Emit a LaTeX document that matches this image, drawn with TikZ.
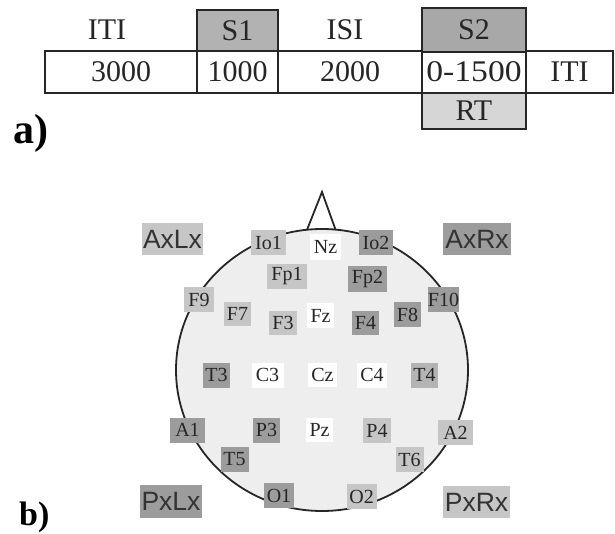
\documentclass[tikz,border=0pt]{standalone}
\usepackage{fontspec}
\setmainfont{Liberation Serif}
\newfontfamily\sansf{Liberation Sans}
\definecolor{lightg}{HTML}{C6C6C6}
\definecolor{darkg}{HTML}{9C9C9C}
\definecolor{midg}{HTML}{B4B4B4}
\definecolor{sonefill}{HTML}{B2B2B2}
\definecolor{stwofill}{HTML}{A8A8A8}
\definecolor{rtfill}{HTML}{D6D6D6}
\definecolor{headfill}{HTML}{EEEEEE}
\begin{document}
\begin{tikzpicture}[x=1pt,y=-1pt,
  cell/.style={draw=black!85, line width=1.8pt, inner sep=0pt, fill=white,
    font=\fontsize{30}{34}\selectfont, text=black!85},
  toplabel/.style={inner sep=0pt, font=\fontsize{30}{34}\selectfont, text=black!85},
  elec/.style={inner sep=0pt, font=\fontsize{20}{22}\selectfont, text=black!85},
  quad/.style={inner sep=0pt, font=\sansf\fontsize{26.5}{28}\selectfont, text=black!80},
  panel/.style={inner sep=0pt, font=\bfseries\fontsize{34}{38}\selectfont, anchor=base west}
]
\useasboundingbox (0,0) rectangle (615,534);
\fill[white] (0,0) rectangle (615,534);

% ---------- a) timeline ----------
\node[cell, minimum width=152pt, minimum height=42pt] (c3000) at (121,72) {3000};
\node[cell, minimum width=81pt, minimum height=42pt] (c1000) at (237.5,72) {1000};
\node[cell, minimum width=144pt, minimum height=42pt] (c2000) at (350,72) {2000};
\node[cell, minimum width=104pt, minimum height=42pt] (c1500) at (474,72) {\scalebox{1.12}[1]{0-1500}};
\node[cell, minimum width=87pt, minimum height=42pt] (citi) at (569.5,72) {ITI};
\node[cell, fill=sonefill, minimum width=81pt, minimum height=41pt] (s1) at (237.5,30.5) {S1};
\node[cell, fill=stwofill, minimum width=104pt, minimum height=44pt] (s2) at (474,30) {S2};
\node[cell, fill=rtfill, minimum width=104pt, minimum height=36pt] (rt) at (474,111) {RT};
\node[toplabel] (iti1) at (107,30) {ITI};
\node[toplabel] (isi) at (345,30) {ISI};
\node[panel, font=\bfseries\fontsize{42}{46}\selectfont] (la) at (13,144) {a)};

% ---------- b) electrode map ----------
\draw[black!85, line width=1.8pt] (307,229.8) -- (322,192) -- (335.5,229.6);
\draw[black!85, line width=1.8pt, fill=headfill] (322,370) ellipse [x radius=146, y radius=141];

\foreach \nm/\tx/\cx/\cy/\w/\h/\col in {
  io1/Io1/268.5/242.5/35/25/lightg,
  nz/Nz/325.5/247/31/26/white,
  io2/Io2/376/242.5/34/25/darkg,
  fp1/Fp1/287/276.5/40/25/lightg,
  fp2/Fp2/367.5/279/39/26/darkg,
  f9/F9/199/299.5/30/25/lightg,
  f7/F7/237.5/314/27/24/lightg,
  f3/F3/283/323/28/24/lightg,
  fz/Fz/320.5/315.5/27/25/white,
  f4/F4/365.5/323/27/24/darkg,
  f8/F8/407.5/314.5/27/25/darkg,
  f10/F10/443.5/299.5/31/25/darkg,
  t3/T3/216.5/375/27/25/darkg,
  c3/C3/267.5/375/32/25/white,
  cz/Cz/322.5/375/29/24/white,
  c4/C4/372/375/30/25/white,
  t4/T4/424.5/375/27/25/midg,
  a1/A1/187.5/430/35/25/darkg,
  p3/P3/266.5/430/27/25/darkg,
  pz/Pz/319.5/430/27/24/white,
  p4/P4/377/430.5/28/25/lightg,
  a2/A2/455.5/432.5/35/25/lightg,
  t5/T5/234.5/459/28/25/darkg,
  t6/T6/409.5/459.5/28/25/lightg,
  o1/O1/279/495.5/30/25/darkg,
  o2/O2/361.7/496.5/30/25/lightg}
{
  \node[elec, fill=\col, minimum width=\w pt, minimum height=\h pt] (\nm) at (\cx,\cy) {\tx};
}

\node[quad, fill=lightg, minimum width=61pt, minimum height=32pt] (axlx) at (172.5,239) {AxLx};
\node[quad, fill=darkg, minimum width=68pt, minimum height=32pt] (axrx) at (477,239) {AxRx};
\node[quad, fill=darkg, minimum width=62pt, minimum height=33pt] (pxlx) at (171,501.5) {PxLx};
\node[quad, fill=lightg, minimum width=67pt, minimum height=32pt] (pxrx) at (476.5,502) {PxRx};

\node[panel] (lb) at (19,525) {b)};
\end{tikzpicture}
\end{document}
